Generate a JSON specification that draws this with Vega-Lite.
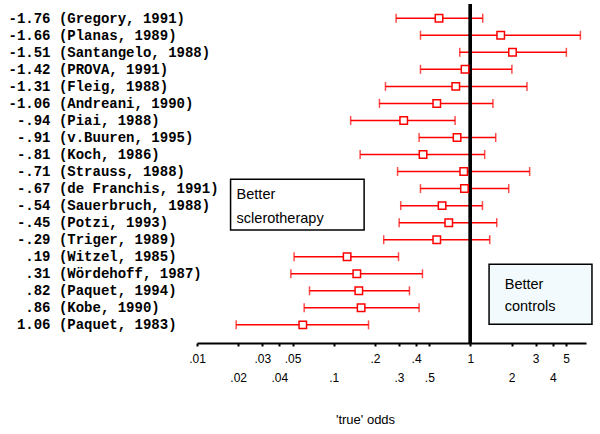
{
  "$schema": "https://vega.github.io/schema/vega-lite/v6.json",
  "autosize": "none",
  "width": 389,
  "height": 339,
  "padding": {"left": 197, "top": 4, "right": 14, "bottom": 91},
  "background": "white",
  "config": {"view": {"stroke": null}},
  "datasets": {
    "studies": [
      {"label": "-1.76 (Gregory, 1991)", "lo": 0.286, "est": 0.589, "hi": 1.23},
      {"label": "-1.66 (Planas, 1989)", "lo": 0.431, "est": 1.665, "hi": 6.37},
      {"label": "-1.51 (Santangelo, 1988)", "lo": 0.835, "est": 2.03, "hi": 5.03},
      {"label": "-1.42 (PROVA, 1991)", "lo": 0.431, "est": 0.913, "hi": 2.01},
      {"label": "-1.31 (Fleig, 1988)", "lo": 0.239, "est": 0.781, "hi": 2.59},
      {"label": "-1.06 (Andreani, 1990)", "lo": 0.216, "est": 0.567, "hi": 1.46},
      {"label": "\u200b\u00a0-.94 (Piai, 1988)", "lo": 0.133, "est": 0.325, "hi": 0.772},
      {"label": "\u200b\u00a0-.91 (v.Buuren, 1995)", "lo": 0.421, "est": 0.798, "hi": 1.53},
      {"label": "\u200b\u00a0-.81 (Koch, 1986)", "lo": 0.156, "est": 0.45, "hi": 1.27},
      {"label": "\u200b\u00a0-.71 (Strauss, 1988)", "lo": 0.293, "est": 0.893, "hi": 2.71},
      {"label": "\u200b\u00a0-.67 (de Franchis, 1991)", "lo": 0.431, "est": 0.904, "hi": 1.905},
      {"label": "\u200b\u00a0-.54 (Sauerbruch, 1988)", "lo": 0.309, "est": 0.62, "hi": 1.224},
      {"label": "\u200b\u00a0-.45 (Potzi, 1993)", "lo": 0.301, "est": 0.694, "hi": 1.557},
      {"label": "\u200b\u00a0-.29 (Triger, 1989)", "lo": 0.232, "est": 0.567, "hi": 1.384},
      {"label": "\u200b\u00a0\u00a0.19 (Witzel, 1985)", "lo": 0.0513, "est": 0.1253, "hi": 0.2977},
      {"label": "\u200b\u00a0\u00a0.31 (Wördehoff, 1987)", "lo": 0.0486, "est": 0.1475, "hi": 0.4457},
      {"label": "\u200b\u00a0\u00a0.82 (Paquet, 1994)", "lo": 0.0665, "est": 0.1526, "hi": 0.358},
      {"label": "\u200b\u00a0\u00a0.86 (Kobe, 1990)", "lo": 0.0608, "est": 0.1586, "hi": 0.421},
      {"label": "\u200b\u00a01.06 (Paquet, 1983)", "lo": 0.01934, "est": 0.0594, "hi": 0.1797}
    ],
    "boxes": [
      {"x": 0.0176, "x2": 0.1668, "y": 9.45, "y2": 12.42, "fill": "white"},
      {"x": 1.368, "x2": 7.74, "y": 14.44, "y2": 17.96, "fill": "#f3fafd"}
    ],
    "notes": [
      {"x": 0.01948, "y": 10.6, "text": "Better"},
      {"x": 0.01948, "y": 12.0, "text": "sclerotherapy"},
      {"x": 1.781, "y": 15.89, "text": "Better"},
      {"x": 1.781, "y": 17.2, "text": "controls"}
    ]
  },
  "layer": [
    {
      "data": {"name": "studies"},
      "layer": [
        {
          "mark": {"type": "rule", "color": "#ff0000", "strokeWidth": 1.5},
          "encoding": {
            "y": {
              "field": "label", "type": "nominal", "sort": null,
              "scale": {"type": "point", "padding": 0.95, "align": 0.44},
              "axis": {
                "title": null, "ticks": false, "tickSize": 0, "domain": false,
                "labelPadding": 189, "labelAlign": "left", "labelLimit": 0,
                "labelFont": "Liberation Mono, DejaVu Sans Mono, monospace", "labelFontWeight": "bold",
                "labelFontSize": 14, "labelColor": "black", "labelOverlap": false
              }
            },
            "x": {
              "field": "lo", "type": "quantitative",
              "scale": {"type": "log", "domain": [0.01, 7], "nice": false},
              "axis": {
                "title": "'true' odds",
                "values": [0.01, 0.02, 0.03, 0.04, 0.05, 0.1, 0.2, 0.3, 0.4, 0.5, 1, 2, 3, 4, 5],
                "labelExpr": "datum.value < 1 ? substring(toString(datum.value), 1) : toString(datum.value)",
                "labelFont": "Liberation Sans", "labelFontSize": 12, "labelColor": "black",
                "labelOverlap": false, "labelFlush": false,
                "labelPadding": {"condition": {"test": "datum.value == 0.02 || datum.value == 0.04 || datum.value == 0.1 || datum.value == 0.3 || datum.value == 0.5 || datum.value == 2 || datum.value == 4", "value": 26}, "value": 7},
                "domainColor": "black", "domainWidth": 2,
                "tickColor": "black", "tickSize": 3, "tickWidth": 2,
                "grid": false,
                "titleFont": "Liberation Sans", "titleFontSize": 13, "titleFontWeight": "normal",
                "titleColor": "black", "titleX": 168, "titleY": 76, "titleBaseline": "middle"
              }
            },
            "x2": {"field": "hi"}
          }
        },
        {
          "mark": {"type": "tick", "color": "#ff0000", "thickness": 1.5, "size": 9, "orient": "vertical"},
          "encoding": {
            "y": {"field": "label", "type": "nominal", "sort": null},
            "x": {"field": "lo", "type": "quantitative"}
          }
        },
        {
          "mark": {"type": "tick", "color": "#ff0000", "thickness": 1.5, "size": 9, "orient": "vertical"},
          "encoding": {
            "y": {"field": "label", "type": "nominal", "sort": null},
            "x": {"field": "hi", "type": "quantitative"}
          }
        },
        {
          "mark": {"type": "rule", "color": "black", "strokeWidth": 3},
          "encoding": {"x": {"datum": 1, "type": "quantitative"}}
        },
        {
          "mark": {"type": "point", "shape": "square", "size": 56, "filled": true, "fill": "white", "stroke": "#ff0000", "strokeWidth": 1.5, "opacity": 1},
          "encoding": {
            "y": {"field": "label", "type": "nominal", "sort": null},
            "x": {"field": "est", "type": "quantitative"}
          }
        }
      ]
    },
    {
      "data": {"name": "boxes"},
      "mark": {"type": "rect", "stroke": "black", "strokeWidth": 1.5, "clip": false},
      "encoding": {
        "x": {"field": "x", "type": "quantitative"},
        "x2": {"field": "x2"},
        "y": {"field": "y", "type": "quantitative", "scale": {"domain": [-0.84, 19.06], "reverse": true, "nice": false, "zero": false}, "axis": null},
        "y2": {"field": "y2"},
        "fill": {"field": "fill", "type": "nominal", "scale": null}
      }
    },
    {
      "data": {"name": "notes"},
      "mark": {"type": "text", "align": "left", "baseline": "alphabetic", "font": "Liberation Sans", "fontSize": 14.5, "color": "black"},
      "encoding": {
        "x": {"field": "x", "type": "quantitative"},
        "y": {"field": "y", "type": "quantitative", "scale": {"domain": [-0.84, 19.06], "reverse": true, "nice": false, "zero": false}, "axis": null},
        "text": {"field": "text"}
      }
    }
  ],
  "resolve": {"scale": {"y": "independent"}, "axis": {"y": "independent"}}
}
